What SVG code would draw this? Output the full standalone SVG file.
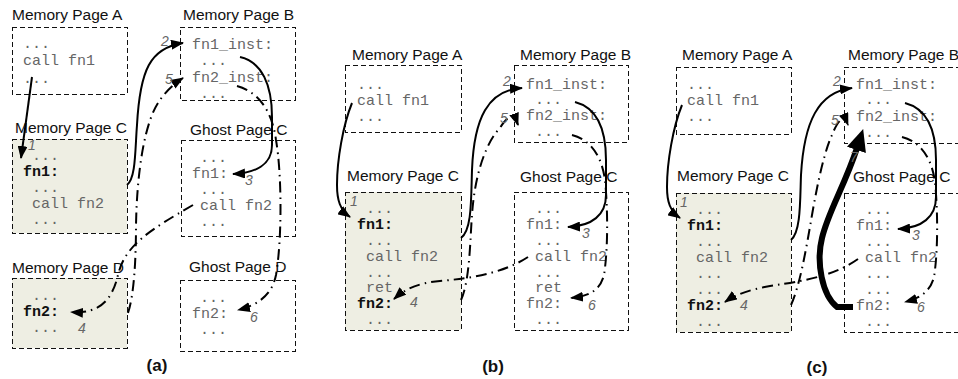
<svg xmlns="http://www.w3.org/2000/svg" width="958" height="379" viewBox="0 0 958 379">
  <style>
    .box { fill: #ffffff; stroke: #111; stroke-width: 1; stroke-dasharray: 5 3; shape-rendering: crispEdges; }
    .shade { fill: #eeeee3; stroke: #111; stroke-width: 1; stroke-dasharray: 5 3; shape-rendering: crispEdges; }
    .title { font-family: "Comic Sans MS", "Liberation Sans", sans-serif; font-size: 15.5px; fill: #111; }
    .code { font-family: "Liberation Mono", "Courier New", monospace; font-size: 15px; fill: #666; }
    .fn { font-family: "Liberation Mono", "Courier New", monospace; font-size: 15px; font-weight: bold; fill: #111; }
    .num { font-family: "Liberation Sans", sans-serif; font-style: italic; font-size: 14px; fill: #666; }
    .cap { font-family: "Comic Sans MS", "Liberation Sans", sans-serif; font-size: 17px; font-weight: bold; fill: #111; text-anchor: middle; }
    .solid { fill: none; stroke: #000; stroke-width: 2; marker-end: url(#ah); }
    .dashdot { fill: none; stroke: #000; stroke-width: 2; stroke-dasharray: 11 5 1.5 5; marker-end: url(#ah); }
    .thick { fill: none; stroke: #000; stroke-width: 6; marker-end: url(#bigah); }
  </style>
  <defs>
    <marker id="ah" markerUnits="userSpaceOnUse" markerWidth="13" markerHeight="10" viewBox="0 0 13 10" refX="12" refY="5" orient="auto">
      <path d="M0,0 L13,5 L0,10 z" fill="#000"/>
    </marker>
    <marker id="bigah" markerUnits="userSpaceOnUse" markerWidth="22" markerHeight="20" viewBox="0 0 22 20" refX="2" refY="10" orient="auto">
      <path d="M0,0 L22,10 L0,20 z" fill="#000"/>
    </marker>
  </defs>

  <!-- ===== (a) ===== -->
  <g id="a-mem-a">
    <text class="title" x="12" y="20">Memory Page A</text>
    <rect class="box" x="12" y="27" width="115" height="67"/>
    <text class="code" x="23" y="48">...</text>
    <text class="code" x="23" y="65">call fn1</text>
    <text class="code" x="23" y="83">...</text>
  </g>
  <g id="a-mem-b">
    <text class="title" x="183" y="20">Memory Page B</text>
    <rect class="box" x="180" y="27" width="115" height="73"/>
    <text class="code" x="192" y="49">fn1_inst:</text>
    <text class="code" x="200" y="65">...</text>
    <text class="code" x="192" y="82">fn2_inst:</text>
    <text class="code" x="200" y="98">...</text>
  </g>
  <g id="a-mem-c">
    <text class="title" x="15" y="133">Memory Page C</text>
    <rect class="shade" x="12" y="139" width="115" height="94"/>
    <text class="code" x="32" y="160">...</text>
    <text class="fn" x="23" y="176">fn1:</text>
    <text class="code" x="32" y="192">...</text>
    <text class="code" x="32" y="208">call fn2</text>
    <text class="code" x="32" y="224">...</text>
  </g>
  <g id="a-ghost-c">
    <text class="title" x="190" y="135">Ghost Page C</text>
    <rect class="box" x="181" y="140" width="114" height="96"/>
    <text class="code" x="200" y="162">...</text>
    <text class="code" x="192" y="178">fn1:</text>
    <text class="code" x="200" y="194">...</text>
    <text class="code" x="200" y="210">call fn2</text>
    <text class="code" x="200" y="226">...</text>
  </g>
  <g id="a-mem-d">
    <text class="title" x="12" y="273">Memory Page D</text>
    <rect class="shade" x="12" y="278" width="115" height="70"/>
    <text class="code" x="32" y="300">...</text>
    <text class="fn" x="23" y="316">fn2:</text>
    <text class="code" x="32" y="332">...</text>
  </g>
  <g id="a-ghost-d">
    <text class="title" x="189" y="272">Ghost Page D</text>
    <rect class="box" x="180" y="280" width="115" height="71"/>
    <text class="code" x="200" y="302">...</text>
    <text class="code" x="192" y="318">fn2:</text>
    <text class="code" x="200" y="334">...</text>
  </g>
  <text class="cap" x="157" y="371">(a)</text>

  <!-- ===== (b) ===== -->
  <g id="b-mem-a">
    <text class="title" x="352" y="60">Memory Page A</text>
    <rect class="box" x="345" y="65" width="116" height="67"/>
    <text class="code" x="357" y="89">...</text>
    <text class="code" x="357" y="105">call fn1</text>
    <text class="code" x="357" y="121">...</text>
  </g>
  <g id="b-mem-b">
    <text class="title" x="520" y="60">Memory Page B</text>
    <rect class="box" x="514" y="65" width="114" height="77"/>
    <text class="code" x="526" y="89">fn1_inst:</text>
    <text class="code" x="535" y="104">...</text>
    <text class="code" x="526" y="120">fn2_inst:</text>
    <text class="code" x="535" y="136">...</text>
  </g>
  <g id="b-mem-c">
    <text class="title" x="347" y="181">Memory Page C</text>
    <rect class="shade" x="345" y="192" width="116" height="138"/>
    <text class="code" x="366" y="213">...</text>
    <text class="fn" x="357" y="229">fn1:</text>
    <text class="code" x="366" y="245">...</text>
    <text class="code" x="366" y="261">call fn2</text>
    <text class="code" x="366" y="277">...</text>
    <text class="code" x="366" y="292">ret</text>
    <text class="fn" x="357" y="308">fn2:</text>
    <text class="code" x="366" y="324">...</text>
  </g>
  <g id="b-ghost-c">
    <text class="title" x="520" y="182">Ghost Page C</text>
    <rect class="box" x="514" y="192" width="114" height="138"/>
    <text class="code" x="535" y="213">...</text>
    <text class="code" x="526" y="229">fn1:</text>
    <text class="code" x="535" y="245">...</text>
    <text class="code" x="535" y="261">call fn2</text>
    <text class="code" x="535" y="277">...</text>
    <text class="code" x="535" y="292">ret</text>
    <text class="code" x="526" y="308">fn2:</text>
    <text class="code" x="535" y="324">...</text>
  </g>
  <text class="cap" x="493" y="372">(b)</text>

  <!-- ===== (c) ===== -->
  <g id="c-mem-a">
    <text class="title" x="682" y="60">Memory Page A</text>
    <rect class="box" x="676" y="67" width="115" height="67"/>
    <text class="code" x="687" y="89">...</text>
    <text class="code" x="687" y="105">call fn1</text>
    <text class="code" x="687" y="121">...</text>
  </g>
  <g id="c-mem-b">
    <text class="title" x="848" y="60">Memory Page B</text>
    <rect class="box" x="844" y="67" width="116" height="76"/>
    <text class="code" x="856" y="89">fn1_inst:</text>
    <text class="code" x="865" y="104">...</text>
    <text class="code" x="856" y="121">fn2_inst:</text>
    <text class="code" x="865" y="137">...</text>
  </g>
  <g id="c-mem-c">
    <text class="title" x="677" y="181">Memory Page C</text>
    <rect class="shade" x="676" y="193" width="115" height="139"/>
    <text class="code" x="696" y="214">...</text>
    <text class="fn" x="687" y="230">fn1:</text>
    <text class="code" x="696" y="246">...</text>
    <text class="code" x="696" y="262">call fn2</text>
    <text class="code" x="696" y="278">...</text>
    <text class="code" x="696" y="294">...</text>
    <text class="fn" x="687" y="310">fn2:</text>
    <text class="code" x="696" y="326">...</text>
  </g>
  <g id="c-ghost-c">
    <text class="title" x="853" y="182">Ghost Page C</text>
    <rect class="box" x="844" y="193" width="116" height="139"/>
    <text class="code" x="865" y="214">...</text>
    <text class="code" x="856" y="230">fn1:</text>
    <text class="code" x="865" y="246">...</text>
    <text class="code" x="865" y="262">call fn2</text>
    <text class="code" x="865" y="278">...</text>
    <text class="code" x="865" y="294">...</text>
    <text class="code" x="856" y="310">fn2:</text>
    <text class="code" x="865" y="326">...</text>
  </g>
  <text class="cap" x="817" y="373">(c)</text>

  <!-- ===== connectors ===== -->
  <g id="connectors">
    <!-- (a) -->
    <path class="solid" d="M32,77 L21,158"/>
    <path class="solid" d="M127,185 C136,178 135,150 137,125 C140,70 150,48 183,43"/>
    <path class="solid" d="M240,57 C262,62 272,85 272,117 L272,145 C272,165 255,173 233,174"/>
    <path class="dashdot" d="M193,205 C150,230 125,245 118,275 C112,300 100,314 71,312"/>
    <path class="dashdot" d="M128,313 C134,295 136,260 136,225 C137,170 145,120 160,100 C167,90 175,83 183,78"/>
    <path class="dashdot" d="M237,86 C258,92 272,110 276,140 C282,175 282,240 276,275 C272,295 258,305 238,310"/>
    <!-- (b) -->
    <path class="solid" d="M352,103 C343,125 337,160 337,185 C337,200 340,210 350,217"/>
    <path class="solid" d="M461,238 C472,230 471,200 472,170 C474,118 488,90 522,88"/>
    <path class="solid" d="M575,102 C598,108 606,130 606,160 L606,195 C606,215 592,226 568,227"/>
    <path class="dashdot" d="M528,257 C505,272 475,278 440,281 C418,283 405,289 394,299"/>
    <path class="dashdot" d="M461,300 C470,280 470,240 472,215 C475,170 488,140 500,128 Q512,108 518,125"/>
    <path class="dashdot" d="M572,135 C592,140 602,158 605,180 C608,210 608,250 604,275 C600,290 590,296 571,298"/>
    <!-- (c) -->
    <path class="solid" d="M682,105 C673,127 667,162 667,187 C667,202 670,211 680,218"/>
    <path class="solid" d="M791,240 C801,232 800,200 801,175 C804,122 818,92 852,88"/>
    <path class="solid" d="M905,103 C928,109 936,130 936,160 L936,197 C936,217 922,228 898,229"/>
    <path class="dashdot" d="M858,259 C835,275 810,280 770,286 C748,290 735,295 725,302"/>
    <path class="dashdot" d="M791,305 C800,285 806,250 812,215 C818,180 825,150 832,135 Q842,110 848,125"/>
    <path class="dashdot" d="M902,137 C922,142 932,160 935,182 C938,212 938,252 934,277 C930,292 920,298 905,302"/>
    <path class="thick" d="M853,307 L837,307 C822,295 816,262 822,238 C828,212 845,185 857,148"/>
  </g>

  <!-- step numbers -->
  <g id="steps">
    <text class="num" x="28" y="150">1</text>
    <text class="num" x="161" y="46">2</text>
    <text class="num" x="165" y="84">5</text>
    <text class="num" x="245" y="185">3</text>
    <text class="num" x="78" y="333">4</text>
    <text class="num" x="250" y="322">6</text>

    <text class="num" x="350" y="206">1</text>
    <text class="num" x="503" y="86">2</text>
    <text class="num" x="500" y="123">5</text>
    <text class="num" x="582" y="238">3</text>
    <text class="num" x="410" y="307">4</text>
    <text class="num" x="588" y="310">6</text>

    <text class="num" x="680" y="207">1</text>
    <text class="num" x="833" y="86">2</text>
    <text class="num" x="831" y="125">5</text>
    <text class="num" x="850" y="162">7</text>
    <text class="num" x="912" y="240">3</text>
    <text class="num" x="740" y="310">4</text>
    <text class="num" x="917" y="312">6</text>
  </g>
</svg>
